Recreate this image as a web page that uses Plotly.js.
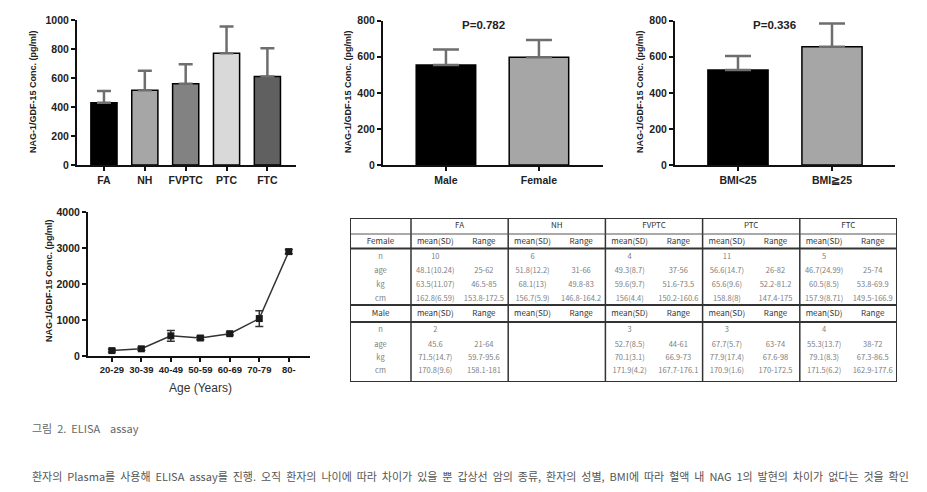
<!DOCTYPE html>
<html>
<head>
<meta charset="utf-8">
<script src="https://cdn.plot.ly/plotly-3.0.1.min.js"></script>
<style>
  html, body { margin: 0; padding: 0; background: #fff; }
  #chart { width: 927px; height: 492px; }
</style>
</head>
<body>
<div id="chart"></div>
<script>
// ---- data ----
const typeLabels = ['FA', 'NH', 'FVPTC', 'PTC', 'FTC'];
const typeMeans = [430, 515, 560, 770, 610];
const typeSD = [80, 135, 135, 185, 195];
const typeColors = ['#000000', '#a6a6a6', '#828282', '#d9d9d9', '#606060'];

const sexLabels = ['Male', 'Female'];
const sexMeans = [555, 597];
const sexSD = [86, 96];
const sexP = 'P=0.782';

const bmiLabels = ['BMI<25', 'BMI≧25'];
const bmiMeans = [527, 656];
const bmiSD = [77, 129];
const bmiP = 'P=0.336';

const ageGroups = ['20-29', '30-39', '40-49', '50-59', '60-69', '70-79', '80-'];
const ageMeans = [150, 200, 560, 500, 620, 1040, 2900];
const ageSD = [40, 40, 150, 50, 40, 220, 60];

const yTitle = 'NAG-1/GDF-15 Conc. (pg/ml)';

// table (one row per tumour type: n, age, kg, cm)
const tableRowNames = ['n', 'age', 'kg', 'cm'];
const femaleMeanSD = [
  ['10', '48.1(10.24)', '63.5(11.07)', '162.8(6.59)'],
  ['6', '51.8(12.2)', '68.1(13)', '156.7(5.9)'],
  ['4', '49.3(8.7)', '59.6(9.7)', '156(4.4)'],
  ['11', '56.6(14.7)', '65.6(9.6)', '158.8(8)'],
  ['5', '46.7(24.99)', '60.5(8.5)', '157.9(8.71)']
];
const femaleRange = [
  ['', '25-62', '46.5-85', '153.8-172.5'],
  ['', '31-66', '49.8-83', '146.8-164.2'],
  ['', '37-56', '51.6-73.5', '150.2-160.6'],
  ['', '26-82', '52.2-81.2', '147.4-175'],
  ['', '25-74', '53.8-69.9', '149.5-166.9']
];
const maleMeanSD = [
  ['2', '45.6', '71.5(14.7)', '170.8(9.6)'],
  ['', '', '', ''],
  ['3', '52.7(8.5)', '70.1(3.1)', '171.9(4.2)'],
  ['3', '67.7(5.7)', '77.9(17.4)', '170.9(1.6)'],
  ['4', '55.3(13.7)', '79.1(8.3)', '171.5(6.2)']
];
const maleRange = [
  ['', '21-64', '59.7-95.6', '158.1-181'],
  ['', '', '', ''],
  ['', '44-61', '66.9-73', '167.7-176.1'],
  ['', '63-74', '67.6-98', '170-172.5'],
  ['', '38-72', '67.3-86.5', '162.9-177.6']
];

const captionText = '그림 2. ELISA  assay';
const bodyText = '환자의 Plasma를 사용해 ELISA assay를 진행. 오직 환자의 나이에 따라 차이가 있을 뿐 갑상선 암의 종류, 환자의 성별, BMI에 따라 혈액 내 NAG 1의 발현의 차이가 없다는 것을 확인';

// ---- helpers ----
const W = 927, H = 492;
const px = p => p / W;
const py = p => 1 - p / H;
const FONT = 'Liberation Sans, Arial, sans-serif';
const KFONT = 'Noto Sans CJK KR, Noto Sans, sans-serif';
const wide = s => s.replace(/ /g, ' &nbsp;');   // the source text is set with wide word gaps

function xAxis(domain, range, anchor, size) {
  return {
    domain: [px(domain[0]), px(domain[1])], anchor: anchor, type: 'category', range: range,
    showgrid: false, zeroline: false, showline: true, linecolor: '#111', linewidth: 2,
    ticks: 'outside', ticklen: 4, tickwidth: 1.5, tickcolor: '#111',
    tickfont: { family: FONT, size: size, weight: 'bold', color: '#222' }, fixedrange: true
  };
}
function yAxis(domain, range, dtick, anchor) {
  return {
    domain: [py(domain[1]), py(domain[0])], anchor: anchor, range: range, dtick: dtick,
    showgrid: false, zeroline: false, showline: true, linecolor: '#111', linewidth: 2,
    ticks: 'outside', ticklen: 4, tickwidth: 1.5, tickcolor: '#111',
    tickfont: { family: FONT, size: 10.5, weight: 'bold', color: '#222' }, fixedrange: true
  };
}
function barTrace(labels, means, sd, colors, xa, ya, capW) {
  return {
    type: 'bar', x: labels, y: means, xaxis: xa, yaxis: ya,
    marker: { color: colors, line: { color: '#000', width: 1.5 } },
    error_y: { type: 'data', symmetric: false, array: sd, arrayminus: sd.map(() => 0),
               color: '#6e6e6e', thickness: 2.5, width: capW },
    hoverinfo: 'x+y'
  };
}

const traces = [
  barTrace(typeLabels, typeMeans, typeSD, typeColors, 'x', 'y', 7),
  barTrace(sexLabels, sexMeans, sexSD, ['#000000', '#a6a6a6'], 'x2', 'y2', 13),
  barTrace(bmiLabels, bmiMeans, bmiSD, ['#000000', '#a6a6a6'], 'x3', 'y3', 13),
  {
    type: 'scatter', mode: 'lines+markers', x: ageGroups, y: ageMeans, xaxis: 'x4', yaxis: 'y4',
    line: { color: '#333', width: 1.5 },
    marker: { symbol: 'square', size: 7, color: '#1a1a1a' },
    error_y: { type: 'data', array: ageSD, color: '#333', thickness: 1.5, width: 4 }
  }
];

// ---- table on its own hidden axes (x5/y5), units ~ pixels, y downward ----
const tblW = 547, tblH = 164;
const labelColW = 61;
const groupW = (tblW - labelColW) / typeLabels.length;
const subCenter = (g, k) => labelColW + g * groupW + (k + 0.5) * groupW / 2;
const headerY = 7.5, femaleY = 24, maleY = 96;
const femaleRowsY = [39, 53.5, 67.5, 81];
const maleRowsY = [112.5, 127, 140, 153];

const hdr = { x: [], y: [], text: [] };
const cell = { x: [], y: [], text: [] };
typeLabels.forEach((g, gi) => {
  hdr.x.push(labelColW + (gi + 0.5) * groupW); hdr.y.push(headerY); hdr.text.push(g);
  [femaleY, maleY].forEach(yy => {
    hdr.x.push(subCenter(gi, 0)); hdr.y.push(yy); hdr.text.push('mean(SD)');
    hdr.x.push(subCenter(gi, 1)); hdr.y.push(yy); hdr.text.push('Range');
  });
  tableRowNames.forEach((r, ri) => {
    cell.x.push(subCenter(gi, 0), subCenter(gi, 1), subCenter(gi, 0), subCenter(gi, 1));
    cell.y.push(femaleRowsY[ri], femaleRowsY[ri], maleRowsY[ri], maleRowsY[ri]);
    cell.text.push(femaleMeanSD[gi][ri], femaleRange[gi][ri], maleMeanSD[gi][ri], maleRange[gi][ri]);
  });
});
hdr.x.push(labelColW / 2, labelColW / 2); hdr.y.push(femaleY, maleY); hdr.text.push('Female', 'Male');
tableRowNames.forEach((r, ri) => {
  cell.x.push(labelColW / 2, labelColW / 2);
  cell.y.push(femaleRowsY[ri], maleRowsY[ri]);
  cell.text.push(r, r);
});

traces.push({
  type: 'scatter', mode: 'text', x: hdr.x, y: hdr.y, text: hdr.text, xaxis: 'x5', yaxis: 'y5',
  textfont: { family: KFONT, size: 8, color: '#333' }, hoverinfo: 'skip'
});
traces.push({
  type: 'scatter', mode: 'text', x: cell.x, y: cell.y, text: cell.text, xaxis: 'x5', yaxis: 'y5',
  textfont: { family: KFONT, size: 7.5, color: '#808080' }, hoverinfo: 'skip'
});

const shapes = [];
const tline = (x0, y0, x1, y1, w, c) => shapes.push({
  type: 'line', xref: 'x5', yref: 'y5', x0, y0, x1, y1, line: { color: c || '#333', width: w }
});
for (let g = 0; g < typeLabels.length; g++) tline(labelColW + g * groupW, 0, labelColW + g * groupW, tblH, 1.5);
tline(0, 16, tblW, 16, 1, '#555');
tline(0, 30.5, tblW, 30.5, 2);
tline(0, 87, tblW, 87, 2);
tline(0, 104, tblW, 104, 2);
shapes.push({ type: 'rect', xref: 'x5', yref: 'y5', x0: 0, y0: 0, x1: tblW, y1: tblH,
              line: { color: '#333', width: 2 } });

const annFont = { family: FONT, size: 9, weight: 'bold', color: '#222' };
const annotations = [
  { x: px(33), y: py(92), text: yTitle, textangle: -90 },
  { x: px(348), y: py(92), text: yTitle, textangle: -90 },
  { x: px(640), y: py(92), text: yTitle, textangle: -90 },
  { x: px(49), y: py(281), text: yTitle, textangle: -90 },
  { x: px(483), y: py(25), text: sexP, font: { family: FONT, size: 11.5, weight: 'bold', color: '#222' } },
  { x: px(774), y: py(25), text: bmiP, font: { family: FONT, size: 11.5, weight: 'bold', color: '#222' } },
  { x: px(200), y: py(388), text: 'Age (Years)', font: { family: FONT, size: 12, color: '#333' } },
  { x: px(30), y: py(428), xanchor: 'left', text: wide(captionText),
    font: { family: KFONT, size: 11, color: '#666' } },
  { x: px(30), y: py(476), xanchor: 'left', text: wide(bodyText),
    font: { family: KFONT, size: 11, color: '#555' } }
].map(a => Object.assign({ xref: 'paper', yref: 'paper', showarrow: false, font: annFont,
                           xanchor: 'center', yanchor: 'middle' }, a));

const layout = {
  width: W, height: H,
  margin: { l: 0, r: 0, t: 0, b: 0 },
  paper_bgcolor: '#fff', plot_bgcolor: 'rgba(0,0,0,0)',
  showlegend: false,
  bargap: 0.36,
  xaxis: xAxis([77, 296], [-0.66, 4.7], 'y', 10.5),
  yaxis: yAxis([20, 165], [0, 1000], 200, 'x'),
  xaxis2: xAxis([383, 603], [-0.677, 1.689], 'y2', 10.5),
  yaxis2: yAxis([20.7, 165], [0, 800], 200, 'x2'),
  xaxis3: xAxis([675, 895], [-0.67, 1.67], 'y3', 10.5),
  yaxis3: yAxis([20.7, 165], [0, 800], 200, 'x3'),
  xaxis4: xAxis([88, 310], [-0.81, 6.72], 'y4', 9.5),
  yaxis4: yAxis([212, 356], [0, 4000], 1000, 'x4'),
  xaxis5: { domain: [px(350), px(897)], anchor: 'y5', range: [0, tblW], visible: false, fixedrange: true },
  yaxis5: { domain: [py(382), py(218)], anchor: 'x5', range: [tblH, 0], visible: false, fixedrange: true },
  shapes: shapes,
  annotations: annotations
};

Plotly.newPlot('chart', traces, layout, { displayModeBar: false, responsive: false });
</script>
</body>
</html>
